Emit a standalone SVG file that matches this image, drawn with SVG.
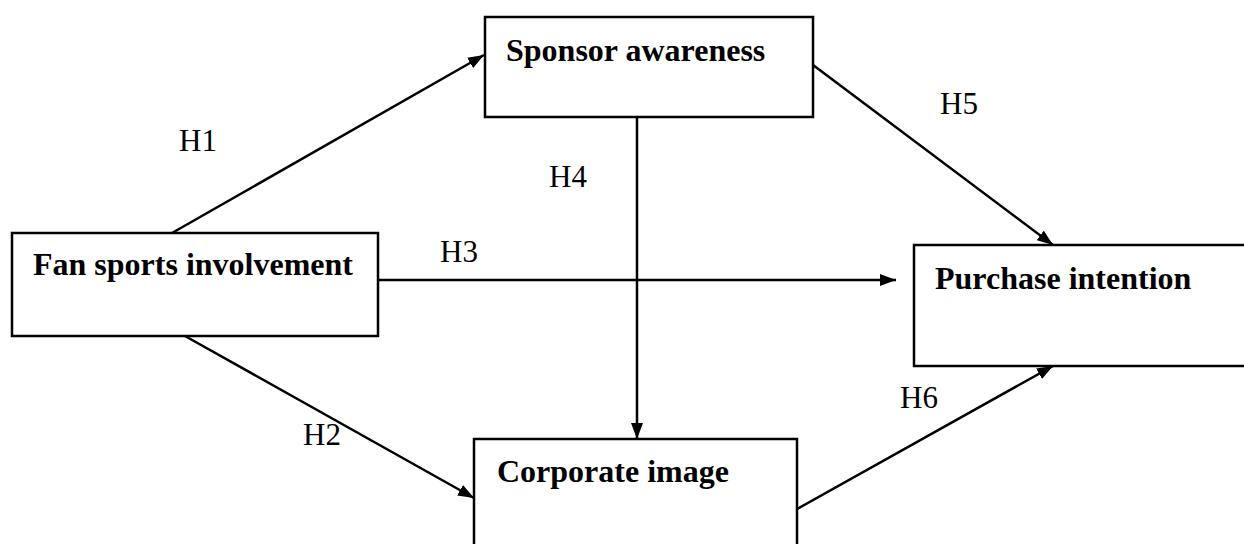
<svg xmlns="http://www.w3.org/2000/svg" width="1244" height="544" viewBox="0 0 1244 544">
<style>
.box{fill:#fff;stroke:#000;stroke-width:2.5}
.t{font-family:"Liberation Serif","Times New Roman",serif;font-weight:bold;font-size:32px;fill:#000}
.h{font-family:"Liberation Serif","Times New Roman",serif;font-size:31px;fill:#000}
.c{stroke:#000;stroke-width:2.5;fill:none;marker-end:url(#ah)}
</style>
<defs>
<marker id="ah" viewBox="0 0 16 12" refX="16" refY="6" markerWidth="16" markerHeight="12" markerUnits="userSpaceOnUse" orient="auto">
<path d="M0,0 L16,6 L0,12 z" fill="#000"/>
</marker>
</defs>
<rect width="1244" height="544" fill="#fff"/>
<g id="connectors">
<line class="c" x1="172" y1="233" x2="484" y2="55"/>
<line class="c" x1="185" y1="336" x2="474" y2="498"/>
<line class="c" x1="378" y1="280" x2="896" y2="280"/>
<line class="c" x1="637" y1="117" x2="637" y2="439"/>
<line class="c" x1="813" y1="65" x2="1053" y2="245"/>
<line class="c" x1="797" y1="509" x2="1053" y2="366"/>
</g>
<g id="fan">
<rect class="box" x="12" y="233" width="366" height="103"/>
<text class="t" x="33" y="275">Fan sports involvement</text>
</g>
<g id="sponsor">
<rect class="box" x="485" y="17" width="328" height="100"/>
<text class="t" x="506" y="61">Sponsor awareness</text>
</g>
<g id="purchase">
<rect class="box" x="914" y="245" width="340" height="121"/>
<text class="t" x="935" y="289">Purchase intention</text>
</g>
<g id="corporate">
<rect class="box" x="474" y="439" width="323" height="120"/>
<text class="t" x="497" y="482">Corporate image</text>
</g>
<g id="labels">
<text class="h" x="179" y="151" font-size="29">H1</text>
<text class="h" x="303" y="445">H2</text>
<text class="h" x="440" y="262">H3</text>
<text class="h" x="549" y="187">H4</text>
<text class="h" x="940" y="114">H5</text>
<text class="h" x="900" y="408">H6</text>
</g>
</svg>
